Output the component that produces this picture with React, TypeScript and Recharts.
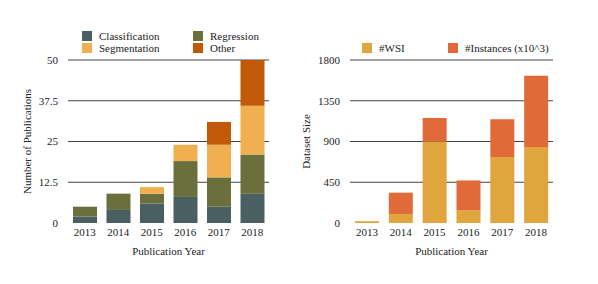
import { BarChart, Bar, XAxis, YAxis, CartesianGrid } from 'recharts';

const years = ['2013', '2014', '2015', '2016', '2017', '2018'];

// left panel: publications per task
const classification = [2, 4, 6, 8, 5, 9];
const regression = [3, 5, 3, 11, 9, 12];
const segmentation = [0, 0, 2, 5, 10, 15];
const other = [0, 0, 0, 0, 7, 14];
const pubTicks = [0, 12.5, 25, 37.5, 50];

// right panel: dataset size
const wsi = [20, 100, 900, 140, 730, 840];
const instances = [0, 235, 260, 330, 415, 785];
const sizeTicks = [0, 450, 900, 1350, 1800];

const pubData = years.map((y, i) => ({
  year: y,
  classification: classification[i],
  regression: regression[i],
  segmentation: segmentation[i],
  other: other[i],
}));

const sizeData = years.map((y, i) => ({
  year: y,
  wsi: wsi[i],
  instances: instances[i],
}));

const FONT = '"Liberation Serif", "DejaVu Serif", serif';
const TEXT = '#222';
const GRID = '#444';

const C_CLASS = '#4A5F62';
const C_REG = '#6B6F3C';
const C_SEG = '#F0B050';
const C_OTHER = '#C05A08';
const C_WSI = '#E0A53C';
const C_INST = '#E06B38';

const tickStyle = { fill: TEXT, fontSize: 11, fontFamily: FONT };

function Swatch({ x, y, color, label }: { x: number; y: number; color: string; label: string }) {
  return (
    <div style={{ position: 'absolute', left: x, top: y, display: 'flex', alignItems: 'center', fontFamily: FONT, fontSize: 11, color: TEXT, whiteSpace: 'nowrap' }}>
      <div style={{ width: 10, height: 10, background: color, marginRight: 7 }} />
      <span>{label}</span>
    </div>
  );
}

export default function App() {
  return (
    <div style={{ position: 'absolute', left: 0, top: 0, width: 598, height: 284, background: '#fff' }}>
      {/* legends */}
      <Swatch x={82} y={30} color={C_CLASS} label="Classification" />
      <Swatch x={193} y={30} color={C_REG} label="Regression" />
      <Swatch x={82} y={42} color={C_SEG} label="Segmentation" />
      <Swatch x={193} y={42} color={C_OTHER} label="Other" />
      <Swatch x={362} y={42} color={C_WSI} label="#WSI" />
      <Swatch x={448} y={42} color={C_INST} label="#Instances (x10^3)" />

      <div style={{ position: 'absolute', left: 0, top: 0 }}>
        <BarChart width={299} height={284} data={pubData} margin={{ top: 60, right: 30, bottom: 25, left: 0 }} barSize={24}>
          <CartesianGrid vertical={false} stroke={GRID} horizontalValues={[12.5, 25, 37.5, 50]} />
          <XAxis
            dataKey="year"
            axisLine={false}
            tickLine={false}
            tick={tickStyle}
            tickSize={3}
            tickMargin={2}
            height={36}
            label={{ value: 'Publication Year', position: 'insideBottom', offset: 4, style: { ...tickStyle } }}
          />
          <YAxis
            width={68}
            domain={[0, 50]}
            ticks={pubTicks}
            axisLine={false}
            tickLine={false}
            tickSize={0}
            tickMargin={10}
            tick={tickStyle}
            label={{ value: 'Number of Publications', angle: -90, position: 'center', dx: -7, style: { ...tickStyle, textAnchor: 'middle' } }}
          />
          <Bar dataKey="classification" stackId="a" fill={C_CLASS} isAnimationActive={false} />
          <Bar dataKey="regression" stackId="a" fill={C_REG} isAnimationActive={false} />
          <Bar dataKey="segmentation" stackId="a" fill={C_SEG} isAnimationActive={false} />
          <Bar dataKey="other" stackId="a" fill={C_OTHER} isAnimationActive={false} />
        </BarChart>
      </div>

      <div style={{ position: 'absolute', left: 299, top: 0 }}>
        <BarChart width={299} height={284} data={sizeData} margin={{ top: 60, right: 45, bottom: 25, left: 0 }} barSize={24}>
          <CartesianGrid vertical={false} stroke={GRID} horizontalValues={[450, 900, 1350, 1800]} />
          <XAxis
            dataKey="year"
            axisLine={false}
            tickLine={false}
            tick={tickStyle}
            tickSize={3}
            tickMargin={2}
            height={36}
            label={{ value: 'Publication Year', position: 'insideBottom', offset: 4, style: { ...tickStyle } }}
          />
          <YAxis
            width={51}
            domain={[0, 1800]}
            ticks={sizeTicks}
            axisLine={false}
            tickLine={false}
            tickSize={0}
            tickMargin={10}
            tick={tickStyle}
            label={{ value: 'Dataset Size', angle: -90, position: 'center', dx: -18, style: { ...tickStyle, textAnchor: 'middle' } }}
          />
          <Bar dataKey="wsi" stackId="b" fill={C_WSI} isAnimationActive={false} />
          <Bar dataKey="instances" stackId="b" fill={C_INST} isAnimationActive={false} />
        </BarChart>
      </div>
    </div>
  );
}
